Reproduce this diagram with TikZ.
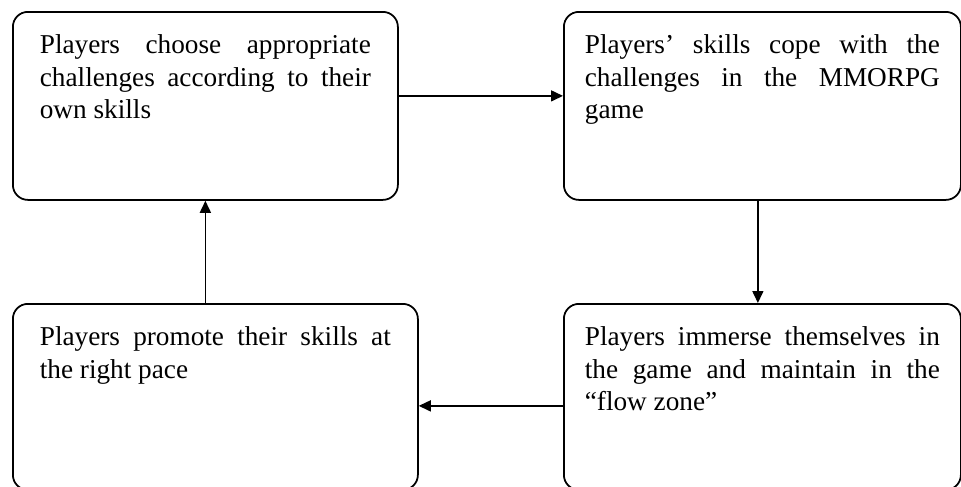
\documentclass[tikz,border=0pt]{standalone}
\usepackage{fontspec}
\setmainfont{Liberation Serif}
\usepackage{tikz}
\usetikzlibrary{arrows.meta, positioning, calc}
\newcommand{\boxtext}[3]{\parbox[t][#2][t]{#1}{\hyphenpenalty=10000\emergencystretch=2em #3}}

\begin{document}
\begin{tikzpicture}[
    card/.style={draw, rounded corners=0.3cm, line width=1pt, anchor=north west, inner xsep=0.54cm, inner ysep=0.46cm, font=\fontsize{15.5pt}{18.5pt}\selectfont},
    arrow/.style={-{Triangle[length=0.24cm, width=0.22cm]}, line width=0.9pt},
]
\useasboundingbox (0,0) rectangle (19.22,-9.72);

% Top row
\node[card] (choose) at (0.24, -0.22) {\boxtext{6.62cm}{2.84cm}{Players choose appropriate challenges according to their own skills}};
\node[card, inner xsep=0.42cm] (cope) at (11.26, -0.22) {\boxtext{7.1cm}{2.84cm}{Players' skills cope with the challenges in the MMORPG game}};

% Bottom row (cut off at the lower edge)
\node[card] (promote) at (0.24, -6.06) {\boxtext{7.02cm}{2.80cm}{Players promote their skills at the right pace}};
\node[card, inner xsep=0.42cm] (immerse) at (11.26, -6.06) {\boxtext{7.1cm}{2.80cm}{Players immerse themselves in the game and maintain in the ``flow zone''}};

% Arrows
\draw[arrow] ([yshift=0.2cm]choose.east) -- ([yshift=0.2cm]cope.west);
\draw[arrow] ([xshift=-0.09cm]cope.south) -- ([xshift=-0.09cm]immerse.north);
\draw[arrow] ([yshift=-0.18cm]immerse.west) -- ([yshift=-0.18cm]promote.east);
\draw[arrow] (promote.north -| choose.south) -- (choose.south);
\end{tikzpicture}
\end{document}
